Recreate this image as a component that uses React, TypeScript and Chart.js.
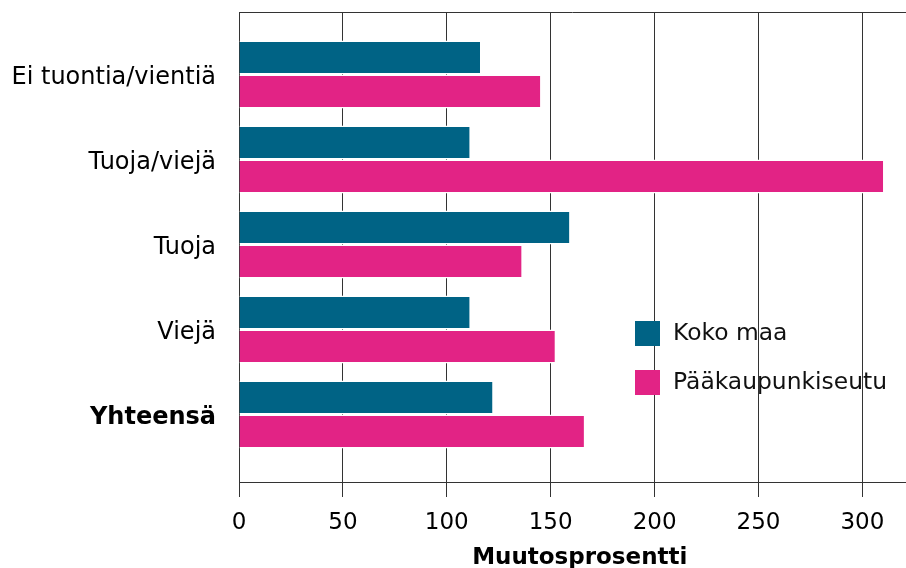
import React, { useEffect, useRef } from "react";
import { Chart, registerables } from "chart.js";

Chart.register(...registerables);

const categories = ["Ei tuontia/vientiä", "Tuoja/viejä", "Tuoja", "Viejä", "Yhteensä"];
const kokoMaa = [116, 111, 159, 111, 122];
const paakaupunkiseutu = [145, 310, 136, 152, 166];
const seriesNames = ["Koko maa", "Pääkaupunkiseutu"];
const seriesColors = ["#006385", "#E22385"];
const xTicks = [0, 50, 100, 150, 200, 250, 300];
const axisTitle = "Muutosprosentti";

const FONT = "'DejaVu Sans', Verdana, sans-serif";

const extrasPlugin = {
  id: "extras",
  afterDraw(chart: any) {
    const ctx = chart.ctx;
    const a = chart.chartArea;
    ctx.save();
    // top border line
    ctx.strokeStyle = "#333";
    ctx.lineWidth = 1;
    ctx.beginPath();
    ctx.moveTo(a.left, Math.round(a.top) + 0.5);
    ctx.lineTo(a.right, Math.round(a.top) + 0.5);
    ctx.stroke();
    // legend
    const lx = a.left + 396;
    const ly = a.top + 309;
    ctx.font = `23.4px ${FONT}`;
    ctx.textBaseline = "middle";
    ctx.textAlign = "left";
    seriesNames.forEach((name, i) => {
      const y = ly + i * 49;
      ctx.fillStyle = seriesColors[i];
      ctx.fillRect(lx, y, 25, 25);
      ctx.fillStyle = "#111";
      ctx.fillText(name, lx + 38, y + 13);
    });
    // axis title
    ctx.font = `bold 23px ${FONT}`;
    ctx.textAlign = "center";
    ctx.fillStyle = "#000";
    ctx.fillText(axisTitle, chart.scales.x.getPixelForValue(164), 558);
    ctx.restore();
  },
};

export default function App() {
  const ref = useRef<HTMLCanvasElement | null>(null);
  useEffect(() => {
    if (!ref.current) return;
    const mk = (vals: number[]) => vals.map((v, i) => ({ x: v, y: i }));
    const barStyle = {
      borderColor: "#ffffff",
      borderWidth: { top: 1.5, bottom: 1.5, left: 0, right: 0 } as any,
      borderSkipped: false as any,
      categoryPercentage: 0.8,
      barPercentage: 1,
    };
    const chart = new Chart(ref.current, {
      type: "bar",
      data: {
        datasets: [
          {
            label: seriesNames[0],
            data: mk(kokoMaa) as any,
            backgroundColor: seriesColors[0],
            ...barStyle,
          },
          {
            label: seriesNames[1],
            data: mk(paakaupunkiseutu) as any,
            backgroundColor: seriesColors[1],
            ...barStyle,
          },
        ],
      },
      options: {
        indexAxis: "y",
        responsive: false,
        animation: false,
        layout: { padding: { top: 12, right: 0, bottom: 0, left: 0 } },
        plugins: {
          legend: { display: false },
          tooltip: { enabled: false },
        },
        scales: {
          x: {
            type: "linear",
            min: 0,
            max: 321,
            afterBuildTicks: (s: any) => {
              s.ticks = xTicks.map((v) => ({ value: v }));
            },
            afterFit: (s: any) => {
              s.height = 86;
              s.paddingLeft = 0;
              s.paddingRight = 0;
            },
            grid: {
              color: "#333",
              lineWidth: 1,
              tickLength: 15,
              tickColor: "#333",
            },
            border: { display: true, color: "#333", width: 1 },
            ticks: {
              color: "#000",
              font: { family: FONT, size: 23 },
              padding: 12,
              maxRotation: 0,
              autoSkip: false,
            },
          },
          y: {
            type: "linear",
            reverse: true,
            offset: false,
            min: -0.7353,
            max: 4.794,
            afterBuildTicks: (s: any) => {
              s.ticks = categories.map((_, i) => ({ value: i }));
            },
            afterFit: (s: any) => {
              s.width = 239;
              s.paddingTop = 0;
              s.paddingBottom = 0;
            },
            grid: { display: false, drawTicks: false, tickLength: 0, offset: false },
            border: { display: true, color: "#333", width: 1 },
            ticks: {
              color: "#000",
              autoSkip: false,
              padding: 23,
              labelOffset: 3,
              font: (c: any) => ({
                family: FONT,
                size: 24,
                weight: c.tick && c.tick.value === 4 ? "bold" : "normal",
              }),
              callback: (v: any) => categories[v as number] ?? "",
            },
          },
        },
      },
      plugins: [extrasPlugin],
    });
    return () => chart.destroy();
  }, []);
  return (
    <canvas
      ref={ref}
      width={906}
      height={568}
      style={{ position: "fixed", left: 0, top: 0, display: "block" }}
    />
  );
}
